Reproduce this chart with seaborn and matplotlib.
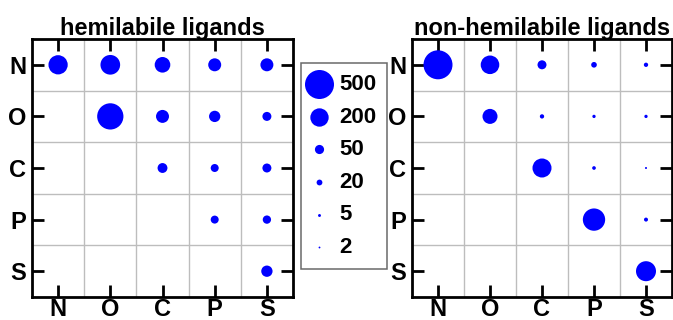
import numpy as np
import pandas as pd
import matplotlib
matplotlib.use("Agg")
import matplotlib.pyplot as plt
import seaborn as sns

elements = ["N", "O", "C", "P", "S"]
titles = ["hemilabile ligands", "non-hemilabile ligands"]

# upper-triangular counts, rows = first donor, cols = second donor (None = no point)
hemilabile = [
    [220, 230, 145, 100, 100],
    [None, 410, 100, 76, 48],
    [None, None, 58, 38, 48],
    [None, None, None, 38, 41],
    [None, None, None, None, 76],
]
non_hemilabile = [
    [500, 205, 48, 19, 11],
    [None, 134, 11, 6.5, 6.5],
    [None, None, 215, 8, 2.4],
    [None, None, None, 296, 9.5],
    [None, None, None, None, 238],
]
legend_values = [500, 200, 50, 20, 5, 2]

sns.set_style("white")
plt.rcParams["font.family"] = ["Liberation Sans", "DejaVu Sans"]
plt.rcParams["font.weight"] = "bold"
plt.rcParams["text.color"] = "black"
plt.rcParams["axes.labelcolor"] = "black"
plt.rcParams["xtick.color"] = "black"
plt.rcParams["ytick.color"] = "black"

W, H, DPI = 673, 320, 100
fig = plt.figure(figsize=(W / DPI, H / DPI), dpi=DPI)
scale = 0.872  # points^2 per count (area proportional to value)
size_max = 500

def to_df(mat):
    rows = []
    for i, r in enumerate(elements):
        for j, c in enumerate(elements):
            v = mat[i][j]
            if v is not None:
                rows.append({"x": j, "y": i, "count": v})
    return pd.DataFrame(rows)

axes_px = [(32, 39, 261, 258), (412, 39, 260, 258)]
for (x0, y0, w, h), mat, title in zip(axes_px, [hemilabile, non_hemilabile], titles):
    ax = fig.add_axes([x0 / W, 1 - (y0 + h) / H, w / W, h / H])
    df = to_df(mat)
    sns.scatterplot(data=df, x="x", y="y", size="count", sizes=(0, scale * size_max),
                    size_norm=(0, size_max), color="#0000ff", linewidth=0,
                    legend=False, ax=ax, zorder=3)
    ax.set_xlim(-0.5, 4.5)
    ax.set_ylim(4.5, -0.5)
    ax.set_xticks(range(5))
    ax.set_yticks(range(5))
    ax.set_xticklabels(elements, fontsize=17, fontweight="bold", color="black")
    ax.set_yticklabels(elements, fontsize=17, fontweight="bold", color="black")
    ax.set_xticks(np.arange(0.5, 4.5, 1), minor=True)
    ax.set_yticks(np.arange(0.5, 4.5, 1), minor=True)
    ax.grid(False)
    ax.grid(which="minor", color="#bdbdbd", linewidth=1.0)
    ax.tick_params(which="minor", length=0)
    ax.tick_params(which="major", direction="in", length=8.5, width=2, color="black",
                   top=True, right=True, bottom=True, left=True)
    ax.tick_params(axis="x", which="major", pad=0.5)
    ax.tick_params(axis="y", which="major", pad=4)
    ax.set_xlabel("")
    ax.set_ylabel("")
    for sp in ax.spines.values():
        sp.set_visible(True)
        sp.set_color("black")
        sp.set_linewidth(2)
    ax.set_title(title, fontsize=17, fontweight="bold", pad=3, color="black")

handles = [plt.scatter([], [], s=scale * v, color="#0000ff", linewidths=0) for v in legend_values]
leg = fig.legend(handles, [str(v) for v in legend_values], loc="upper left",
                 bbox_to_anchor=(301 / W, 1 - 63 / H), frameon=True, fancybox=False,
                 prop={"size": 16, "weight": "bold"}, labelspacing=0.52,
                 handletextpad=0.6, borderpad=0.5, handlelength=0.62, borderaxespad=0)
for t in leg.get_texts():
    t.set_color("black")
leg.get_frame().set_edgecolor("#444444")
leg.get_frame().set_linewidth(1.1)

fig.savefig("out.png", dpi=DPI)
